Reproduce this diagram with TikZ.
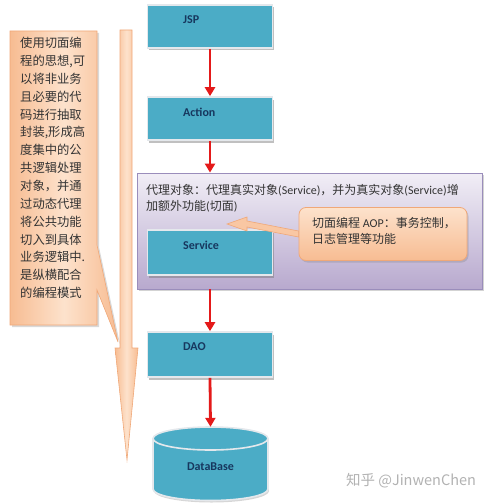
\documentclass[tikz,border=0pt]{standalone}
\usepackage{fontspec}
\setmainfont{Carlito}
\newfontfamily\cjk{Noto Sans CJK SC}
\usetikzlibrary{arrows.meta,shadows,calc}
\definecolor{boxteal}{HTML}{4BACC6}
\definecolor{boxrim}{HTML}{E4E8EC}
\definecolor{navy}{HTML}{17375E}
\definecolor{flowred}{HTML}{E41A1A}
\definecolor{peachL}{HTML}{FDE2CC}
\definecolor{peachD}{HTML}{F7BC92}
\definecolor{peachB}{HTML}{F0A878}
\definecolor{lavL}{HTML}{F1EEF6}
\definecolor{lavD}{HTML}{B8A9CE}
\definecolor{lavB}{HTML}{9A8DBB}
\begin{document}
\begin{tikzpicture}[x=1pt,y=-1pt,
  tbox/.style={draw=boxrim, line width=1.6pt, fill=boxteal, minimum width=125pt,
    minimum height=43pt, inner sep=0pt,
    drop shadow={shadow xshift=1pt, shadow yshift=-2.5pt, opacity=0.45, fill=black!55}},
  lbl/.style={anchor=west, inner sep=0pt, text=navy, font=\bfseries\fontsize{12}{14}\selectfont},
  flow/.style={draw=flowred, line width=2.8pt, -{Triangle[width=10pt,length=9pt]}, shorten >=0pt},
  cjktxt/.style={inner sep=0pt, text=black!80, font=\cjk\fontsize{12}{16.5}\selectfont}
]
\useasboundingbox (0,0) rectangle (490,503);

% big vertical arrow
\path[draw=peachB, line width=0.6pt, left color=peachD, right color=peachD, middle color=peachL]
  (120,30) -- (132,30) -- (132,348) -- (138,348) -- (127,460) -- (115,348) -- (120,348) -- cycle;

% left note with tail
\path[draw=peachB, line width=0.6pt, left color=peachD, right color=peachD, middle color=peachL,
  drop shadow={shadow xshift=2pt, shadow yshift=-2pt, opacity=0.3, fill=black!50}]
  (10,31) -- (97,31) -- (97,245) -- (118,342) -- (97,290) -- (97,325) -- (10,325) -- cycle;
\node[anchor=north west, align=left, inner sep=0pt, text=black!80,
  font=\cjk\fontsize{12.3}{17.86}\selectfont] (note) at (20,37)
  {使用切面编\\程的思想,可\\以将非业务\\且必要的代\\码进行抽取\\封装,形成高\\度集中的公\\共逻辑处理\\对象，并通\\过动态代理\\将公共功能\\切入到具体\\业务逻辑中.\\是纵横配合\\的编程模式};

% boxes
\node[tbox] (jsp) at (210,26.5) {};
\node[lbl] (jspl) at (183,20) {JSP};
\node[tbox] (action) at (210,118.5) {};
\node[lbl] (actionl) at (183,112) {Action};

% proxy container
\node[draw=lavB, line width=0.8pt, top color=lavL, bottom color=lavD,
  minimum width=345pt, minimum height=116pt, inner sep=0pt,
  drop shadow={shadow xshift=1.5pt, shadow yshift=-2pt, opacity=0.35, fill=black!50}]
  (proxy) at (309.5,231) {};
\node[cjktxt, anchor=north west, align=left] (proxyl) at (146,184)
  {代理对象：代理真实对象{\fontspec{Carlito}(Service)}，并为真实对象{\fontspec{Carlito}(Service)}增\\加额外功能{\fontspec{Carlito}(}切面{\fontspec{Carlito})}};

\node[tbox, minimum height=45pt] (service) at (210,252.5) {};
\node[lbl] (servicel) at (183,245) {Service};

% AOP callout
\node[draw=peachB, line width=0.8pt, rounded corners=7pt, top color=peachL, bottom color=peachD,
  minimum width=168pt, minimum height=53pt, inner sep=0pt,
  drop shadow={shadow xshift=1.5pt, shadow yshift=-2pt, opacity=0.3, fill=black!50}]
  (aop) at (383,234) {};
\node[cjktxt, anchor=north west, align=left] (aopl) at (312,217)
  {切面编程 {\fontspec{Carlito}AOP}：事务控制，\\日志管理等功能};
\path[draw=peachB, line width=0.6pt, fill=peachD!70!peachL]
  ($(aop.west)+(0,-3)$) -- (247,221) -- (247,217) -- (227,224) -- (247,231) -- (247,227) --
  ($(aop.west)+(0,3)$) -- cycle;

\node[tbox, minimum height=45pt] (dao) at (210,354.5) {};
\node[lbl] (daol) at (183,347) {DAO};

% database cylinder
\node[inner sep=0pt, minimum width=115pt, minimum height=73pt] (db) at (210.5,463.5) {};
\path[fill=black!40, opacity=0.4] (154,440.5) -- (154,491) arc[start angle=180, end angle=360, x radius=57.5pt, y radius=11.5pt] -- (268,440.5) -- cycle;
\path[draw=boxrim, line width=1.6pt, fill=boxteal]
  (153,438.5) -- (153,489) arc[start angle=180, end angle=360, x radius=57.5pt, y radius=11.5pt]
  -- (268,438.5) arc[start angle=0, end angle=180, x radius=57.5pt, y radius=11.5pt] -- cycle;
\draw[boxrim, line width=1.6pt] (153,438.5) arc[start angle=180, end angle=360, x radius=57.5pt, y radius=11.5pt];
\node[inner sep=0pt, text=navy, font=\bfseries\fontsize{12}{14}\selectfont] (dbl) at (210.5,467) {DataBase};

% flow arrows
\draw[flow] (jsp.south) -- (action.north);
\draw[flow] (action.south) -- (action.south |- proxy.north);
\draw[flow] (dao.north |- proxy.south) -- (dao.north);
\draw[flow] (dao.south) -- (db.north);

% watermark
\node[inner sep=0pt, text=black!30, font=\cjk\fontsize{14.5}{16}\selectfont] (wm) at (411,481) {知乎 @JinwenChen};
\end{tikzpicture}
\end{document}
